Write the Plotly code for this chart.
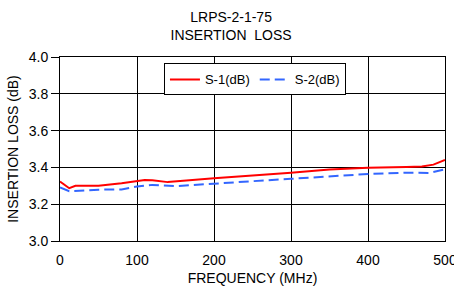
import plotly.graph_objects as go

freq1 = [0, 12, 20, 50, 80, 100, 110, 120, 140, 200, 250, 300, 350, 400, 450, 470, 485, 500]
s1 = [3.323, 3.287, 3.300, 3.300, 3.314, 3.325, 3.332, 3.330, 3.320, 3.341, 3.355, 3.371, 3.388, 3.398, 3.402, 3.405, 3.415, 3.440]
freq2 = [0, 12, 50, 80, 100, 120, 150, 200, 250, 300, 350, 400, 450, 480, 500]
s2 = [3.291, 3.271, 3.279, 3.280, 3.296, 3.305, 3.298, 3.313, 3.325, 3.338, 3.352, 3.364, 3.371, 3.370, 3.390]

FONT = "Liberation Sans, Arial, sans-serif"

fig = go.Figure()
fig.add_trace(go.Scatter(x=freq1, y=s1, mode="lines", name="S-1(dB)",
                         line=dict(color="#ff0000", width=2)))
fig.add_trace(go.Scatter(x=freq2, y=s2, mode="lines", name="S-2(dB)",
                         line=dict(color="#3366ff", width=2, dash="10px,5px")))

fig.update_layout(
    width=454, height=291,
    margin=dict(l=60, r=9, t=57, b=50, autoexpand=False),
    paper_bgcolor="white", plot_bgcolor="white",
    font=dict(family=FONT, size=14, color="black"),
    title=dict(text="LRPS-2-1-75<br>INSERTION  LOSS", x=0.509, xanchor="center",
               y=0.925, yanchor="top", font=dict(size=14)),
    legend=dict(orientation="h", x=0.27, y=0.965, xanchor="left", yanchor="top",
                bordercolor="black", borderwidth=1, bgcolor="white",
                font=dict(size=13), itemwidth=30, tracegroupgap=0),
    xaxis=dict(range=[0, 500], dtick=100, showgrid=True, gridcolor="black", gridwidth=1,
               showline=True, linecolor="black", linewidth=1, mirror=True,
               ticks="", zeroline=False, automargin=False,
               ticklabeloverflow="allow", ticklabelstandoff=6,
               title=dict(text="FREQUENCY (MHz)", standoff=6, font=dict(size=14))),
    yaxis=dict(range=[3.0, 4.0], dtick=0.2, tickformat=".1f", showgrid=True,
               gridcolor="black", gridwidth=1,
               showline=True, linecolor="black", linewidth=1, mirror=True,
               ticks="outside", ticklen=8, tickcolor="black", tickwidth=1,
               zeroline=False, automargin=False, ticklabeloverflow="allow",
               title=dict(text="INSERTION LOSS (dB)", standoff=6, font=dict(size=14))),
)

fig.write_html("out.html", config={"displayModeBar": False},
               post_script="document.body.style.margin='0';")
